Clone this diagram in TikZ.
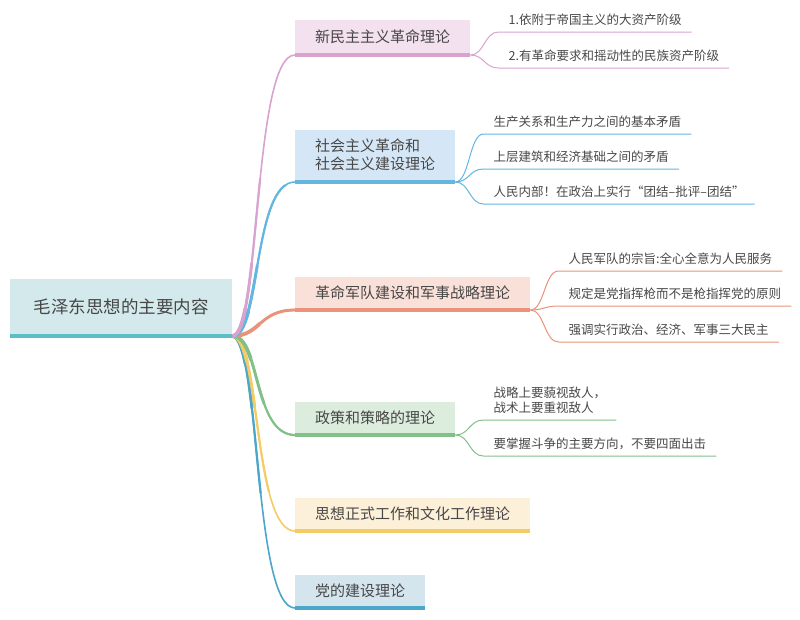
\documentclass[tikz,border=0pt]{standalone}
\usepackage{fontspec}
\setmainfont{Noto Sans CJK SC}
\definecolor{txt}{HTML}{474747}
\definecolor{rootF}{HTML}{D3E9EC}\definecolor{rootL}{HTML}{5BBFC8}
\definecolor{pinkF}{HTML}{F3E1EF}\definecolor{pinkL}{HTML}{D9A3CF}
\definecolor{blueF}{HTML}{D5E7F6}\definecolor{blueL}{HTML}{62B6E0}
\definecolor{oranF}{HTML}{F9E0D8}\definecolor{oranL}{HTML}{E8937A}
\definecolor{grenF}{HTML}{DCECDD}\definecolor{grenL}{HTML}{82C08A}
\definecolor{yellF}{HTML}{FDF0D9}\definecolor{yellL}{HTML}{F4CC66}
\definecolor{tealF}{HTML}{D4E5EE}\definecolor{tealL}{HTML}{4BA6C9}
\tikzset{
  every node/.style={text=txt},
  rootbox/.style={anchor=south west, inner sep=0pt, minimum width=222pt, minimum height=55pt, font=\fontsize{17.5}{21}\selectfont},
  mainbox/.style={anchor=south west, inner xsep=20pt, inner ysep=0pt, minimum height=31pt, font=\fontsize{15}{18}\selectfont, align=left},
  subnode/.style={anchor=south west, inner xsep=10pt, inner ysep=6pt, font=\fontsize{12.5}{15}\selectfont, align=left},
  subconn/.style={line width=1pt},
  uline/.style={line width=4pt},
}
\newcommand\mainconns[1]{%
  \foreach \b/\c/\k in {b6/tealL/42, b5/yellL/42, b4/grenL/42, b3/oranL/36, b2/blueL/42, b1/pinkL/42}{%
    \draw[line width=#1, \c] ([yshift=-2pt]root.south east) .. controls +(28,0) and +(-\k,0) .. ([yshift=-2pt]\b.south west);
  }%
}
\begin{document}
\begin{tikzpicture}[x=1pt,y=1pt]
\useasboundingbox (0,0) rectangle (800,-619);
% root and main boxes
\node[rootbox, fill=rootF] (root) at (10,-334) {毛泽东思想的主要内容};
\node[mainbox, fill=pinkF, minimum height=33pt] (b1) at (295,-53) {新民主主义革命理论};
\node[mainbox, fill=blueF, minimum height=50pt] (b2) at (295,-180) {社会主义革命和\\社会主义建设理论};
\node[mainbox, fill=oranF] (b3) at (295,-308) {革命军队建设和军事战略理论};
\node[mainbox, fill=grenF] (b4) at (295,-433) {政策和策略的理论};
\node[mainbox, fill=yellF] (b5) at (295,-529) {思想正式工作和文化工作理论};
\node[mainbox, fill=tealF] (b6) at (295,-606) {党的建设理论};
% sub nodes
\node[subnode] (s11) at ([xshift=28pt,yshift=21pt]b1.south east) {1.依附于帝国主义的大资产阶级};
\node[subnode] (s12) at ([xshift=28pt,yshift=-15pt]b1.south east) {2.有革命要求和摇动性的民族资产阶级};
\node[subnode] (s21) at ([xshift=28pt,yshift=46pt]b2.south east) {生产关系和生产力之间的基本矛盾};
\node[subnode] (s22) at ([xshift=28pt,yshift=11pt]b2.south east) {上层建筑和经济基础之间的矛盾};
\node[subnode] (s23) at ([xshift=28pt,yshift=-24pt]b2.south east) {人民内部！在政治上实行“团结–批评–团结”};
\node[subnode] (s31) at ([xshift=28pt,yshift=37pt]b3.south east) {人民军队的宗旨:全心全意为人民服务};
\node[subnode] (s32) at ([xshift=28pt,yshift=2pt]b3.south east) {规定是党指挥枪而不是枪指挥党的原则};
\node[subnode] (s33) at ([xshift=28pt,yshift=-34pt]b3.south east) {强调实行政治、经济、军事三大民主};
\node[subnode] (s41) at ([xshift=28pt,yshift=13pt]b4.south east) {战略上要藐视敌人，\\战术上要重视敌人};
\node[subnode] (s42) at ([xshift=28pt,yshift=-23pt]b4.south east) {要掌握斗争的主要方向，不要四面出击};
% main connectors, tapering towards the boxes
\mainconns{1.6pt}
\begin{scope}\clip ([yshift=-2pt]root.south east) circle (160pt); \mainconns{2.2pt}\end{scope}
\begin{scope}\clip ([yshift=-2pt]root.south east) circle (75pt); \mainconns{2.9pt}\end{scope}
\begin{scope}\clip ([yshift=-2pt]root.south east) circle (30pt); \mainconns{3.7pt}\end{scope}
% sub connectors
\foreach \b/\s/\c in {b1/s11/pinkL, b1/s12/pinkL, b2/s21/blueL, b2/s22/blueL, b2/s23/blueL, b3/s31/oranL, b3/s32/oranL, b3/s33/oranL, b4/s41/grenL, b4/s42/grenL}{
  \draw[subconn, \c] ([yshift=-2pt]\b.south east) .. controls +(14,0) and +(-14,0) .. (\s.south west) -- (\s.south east);
}
% underlines
\draw[uline, rootL] ([yshift=-2pt]root.south west) -- ([yshift=-2pt]root.south east);
\draw[uline, pinkL] ([yshift=-2pt]b1.south west) -- ([yshift=-2pt]b1.south east);
\draw[uline, blueL] ([yshift=-2pt]b2.south west) -- ([yshift=-2pt]b2.south east);
\draw[uline, oranL] ([yshift=-2pt]b3.south west) -- ([yshift=-2pt]b3.south east);
\draw[uline, grenL] ([yshift=-2pt]b4.south west) -- ([yshift=-2pt]b4.south east);
\draw[uline, yellL] ([yshift=-2pt]b5.south west) -- ([yshift=-2pt]b5.south east);
\draw[uline, tealL] ([yshift=-2pt]b6.south west) -- ([yshift=-2pt]b6.south east);
\end{tikzpicture}
\end{document}
